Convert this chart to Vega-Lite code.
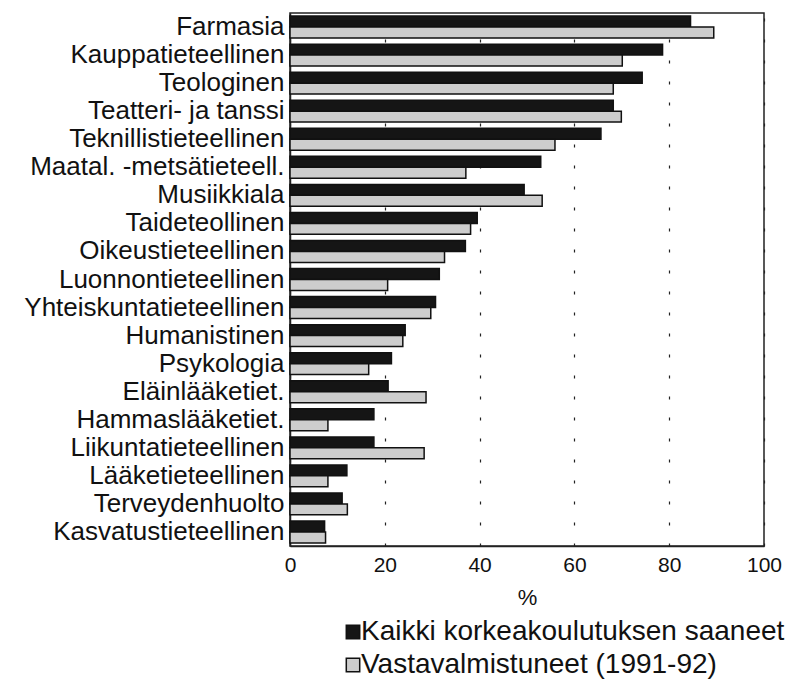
{
  "$schema": "https://vega.github.io/schema/vega-lite/v6.json",
  "width": 474,
  "height": 533,
  "autosize": {"type": "none"},
  "padding": {"left": 290, "top": 13, "right": 24, "bottom": 134},
  "background": "white",
  "config": {
    "font": "Liberation Sans",
    "view": {"stroke": "#222", "strokeWidth": 1.5}
  },
  "data": {
    "values": [
      {"ala": "Farmasia", "ryhma": "Kaikki korkeakoulutuksen saaneet", "pros": 84.5},
      {"ala": "Farmasia", "ryhma": "Vastavalmistuneet (1991-92)", "pros": 89.4},
      {"ala": "Kauppatieteellinen", "ryhma": "Kaikki korkeakoulutuksen saaneet", "pros": 78.6},
      {"ala": "Kauppatieteellinen", "ryhma": "Vastavalmistuneet (1991-92)", "pros": 70.1},
      {"ala": "Teologinen", "ryhma": "Kaikki korkeakoulutuksen saaneet", "pros": 74.3},
      {"ala": "Teologinen", "ryhma": "Vastavalmistuneet (1991-92)", "pros": 68.2},
      {"ala": "Teatteri- ja tanssi", "ryhma": "Kaikki korkeakoulutuksen saaneet", "pros": 68.2},
      {"ala": "Teatteri- ja tanssi", "ryhma": "Vastavalmistuneet (1991-92)", "pros": 69.9},
      {"ala": "Teknillistieteellinen", "ryhma": "Kaikki korkeakoulutuksen saaneet", "pros": 65.6},
      {"ala": "Teknillistieteellinen", "ryhma": "Vastavalmistuneet (1991-92)", "pros": 55.9},
      {"ala": "Maatal. -metsätieteell.", "ryhma": "Kaikki korkeakoulutuksen saaneet", "pros": 52.9},
      {"ala": "Maatal. -metsätieteell.", "ryhma": "Vastavalmistuneet (1991-92)", "pros": 37.1},
      {"ala": "Musiikkiala", "ryhma": "Kaikki korkeakoulutuksen saaneet", "pros": 49.4},
      {"ala": "Musiikkiala", "ryhma": "Vastavalmistuneet (1991-92)", "pros": 53.2},
      {"ala": "Taideteollinen", "ryhma": "Kaikki korkeakoulutuksen saaneet", "pros": 39.5},
      {"ala": "Taideteollinen", "ryhma": "Vastavalmistuneet (1991-92)", "pros": 38.1},
      {"ala": "Oikeustieteellinen", "ryhma": "Kaikki korkeakoulutuksen saaneet", "pros": 37.0},
      {"ala": "Oikeustieteellinen", "ryhma": "Vastavalmistuneet (1991-92)", "pros": 32.6},
      {"ala": "Luonnontieteellinen", "ryhma": "Kaikki korkeakoulutuksen saaneet", "pros": 31.5},
      {"ala": "Luonnontieteellinen", "ryhma": "Vastavalmistuneet (1991-92)", "pros": 20.6},
      {"ala": "Yhteiskuntatieteellinen", "ryhma": "Kaikki korkeakoulutuksen saaneet", "pros": 30.7},
      {"ala": "Yhteiskuntatieteellinen", "ryhma": "Vastavalmistuneet (1991-92)", "pros": 29.7},
      {"ala": "Humanistinen", "ryhma": "Kaikki korkeakoulutuksen saaneet", "pros": 24.3},
      {"ala": "Humanistinen", "ryhma": "Vastavalmistuneet (1991-92)", "pros": 23.8},
      {"ala": "Psykologia", "ryhma": "Kaikki korkeakoulutuksen saaneet", "pros": 21.4},
      {"ala": "Psykologia", "ryhma": "Vastavalmistuneet (1991-92)", "pros": 16.6},
      {"ala": "Eläinlääketiet.", "ryhma": "Kaikki korkeakoulutuksen saaneet", "pros": 20.7},
      {"ala": "Eläinlääketiet.", "ryhma": "Vastavalmistuneet (1991-92)", "pros": 28.7},
      {"ala": "Hammaslääketiet.", "ryhma": "Kaikki korkeakoulutuksen saaneet", "pros": 17.7},
      {"ala": "Hammaslääketiet.", "ryhma": "Vastavalmistuneet (1991-92)", "pros": 8.0},
      {"ala": "Liikuntatieteellinen", "ryhma": "Kaikki korkeakoulutuksen saaneet", "pros": 17.7},
      {"ala": "Liikuntatieteellinen", "ryhma": "Vastavalmistuneet (1991-92)", "pros": 28.3},
      {"ala": "Lääketieteellinen", "ryhma": "Kaikki korkeakoulutuksen saaneet", "pros": 12.0},
      {"ala": "Lääketieteellinen", "ryhma": "Vastavalmistuneet (1991-92)", "pros": 8.0},
      {"ala": "Terveydenhuolto", "ryhma": "Kaikki korkeakoulutuksen saaneet", "pros": 11.0},
      {"ala": "Terveydenhuolto", "ryhma": "Vastavalmistuneet (1991-92)", "pros": 12.1},
      {"ala": "Kasvatustieteellinen", "ryhma": "Kaikki korkeakoulutuksen saaneet", "pros": 7.3},
      {"ala": "Kasvatustieteellinen", "ryhma": "Vastavalmistuneet (1991-92)", "pros": 7.5}
    ]
  },
  "mark": {"type": "bar", "stroke": "#111", "strokeWidth": 1.5, "cornerRadius": 0},
  "encoding": {
    "y": {
      "field": "ala",
      "type": "nominal",
      "sort": null,
      "scale": {"paddingInner": 0.22, "paddingOuter": 0.11},
      "axis": {
        "title": null,
        "ticks": false,
        "labelFontSize": 26,
        "labelColor": "#111",
        "labelPadding": 6,
        "labelLimit": 300,
        "labelOverlap": false,
        "domainColor": "#222",
        "domainWidth": 1.5
      }
    },
    "yOffset": {
      "field": "ryhma",
      "type": "nominal",
      "sort": ["Kaikki korkeakoulutuksen saaneet", "Vastavalmistuneet (1991-92)"],
      "scale": {"paddingInner": 0, "paddingOuter": 0}
    },
    "x": {
      "field": "pros",
      "type": "quantitative",
      "scale": {"domain": [0, 100], "nice": false},
      "axis": {
        "title": "%",
        "titleFontSize": 22,
        "titleFontWeight": "normal",
        "titleColor": "#111",
        "titlePadding": 12,
        "values": [0, 20, 40, 60, 80, 100],
        "ticks": false,
        "labelFontSize": 21,
        "labelColor": "#111",
        "labelPadding": 8,
        "labelFlush": false,
        "labelOverlap": false,
        "grid": true,
        "gridColor": "#222",
        "gridDash": [3, 18],
        "gridWidth": 1.2,
        "domainColor": "#222",
        "domainWidth": 1.5
      }
    },
    "color": {
      "field": "ryhma",
      "type": "nominal",
      "scale": {
        "domain": ["Kaikki korkeakoulutuksen saaneet", "Vastavalmistuneet (1991-92)"],
        "range": ["#151515", "#cdcdcd"]
      },
      "legend": {
        "title": null,
        "orient": "none",
        "legendX": 49,
        "legendY": 605,
        "symbolType": "square",
        "symbolSize": 180,
        "symbolStrokeColor": "#111",
        "symbolStrokeWidth": 1.5,
        "labelFontSize": 28,
        "labelColor": "#111",
        "labelOffset": -6,
        "labelLimit": 500,
        "rowPadding": 5
      }
    }
  }
}
